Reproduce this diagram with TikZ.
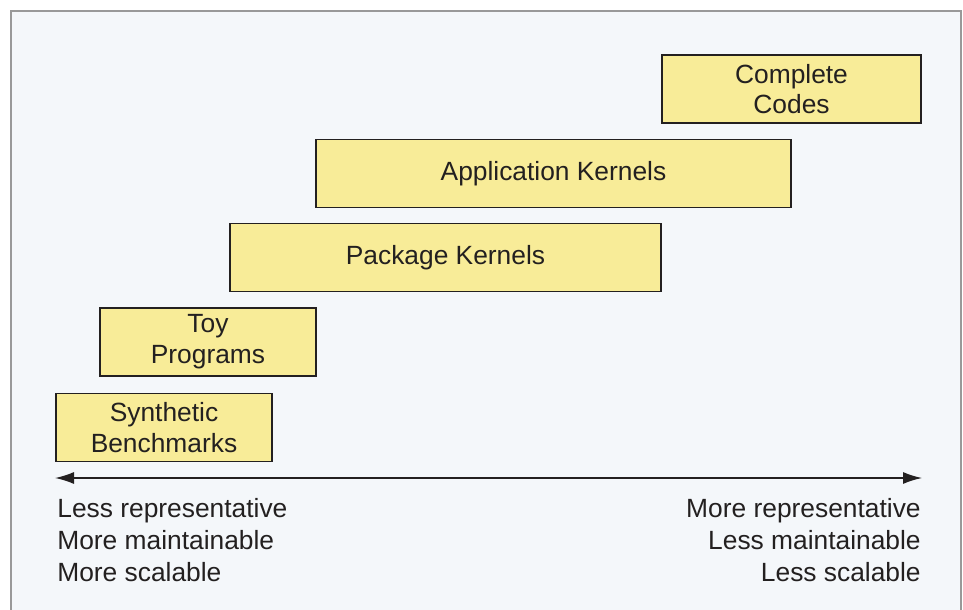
\documentclass[tikz,border=0pt]{standalone}
\usepackage{fontspec}
\setmainfont{Liberation Sans}
\usetikzlibrary{arrows.meta}
\definecolor{panelbg}{RGB}{244,247,250}
\definecolor{stagefill}{RGB}{248,236,152}
\definecolor{inkgray}{RGB}{35,32,32}
\tikzset{%
  stage/.style = {shape=rectangle, draw=inkgray, line width=1pt,%
                  fill=stagefill, align=center, text=inkgray,%
                  minimum height=1.36cm, inner sep=0pt,%
                  font=\fontsize{15}{17.5}\selectfont},%
  note/.style  = {inner sep=0pt, text=inkgray,%
                  font=\fontsize{15}{18}\selectfont}%
}
\begin{document}
\begin{tikzpicture}
	\clip (0,0) rectangle (19.26,12.18);
	\fill[white] (0,0) rectangle (19.26,12.18);
	\draw[gray!80, line width=1.2pt, fill=panelbg] (0.22,-0.3) rectangle (19.22,11.96);
	\node[stage, minimum width=4.32cm] (synth) at (3.28,3.63) {Synthetic\\Benchmarks};
	\node[stage, minimum width=4.32cm] (toy) at (4.16,5.34) {Toy\\Programs};
	\node[stage, minimum width=8.62cm] (pkg) at (8.91,7.03) {Package Kernels};
	\node[stage, minimum width=9.5cm] (app) at (11.07,8.71) {Application Kernels};
	\node[stage, minimum width=5.18cm] (full) at (15.83,10.4) {Complete\\Codes};
	\coordinate (lo) at (1.1,2.62);
	\coordinate (hi) at (18.44,2.62);
	\draw[inkgray, line width=0.8pt, {Latex[length=3.8mm,width=2.4mm]}-{Latex[length=3.8mm,width=2.4mm]}] (lo) -- (hi);
	\node[note, anchor=base west] (lrep) at (1.14,1.84) {Less representative};
	\node[note, anchor=base west] (lmaint) at (1.14,1.2) {More maintainable};
	\node[note, anchor=base west] (lscal) at (1.14,0.56) {More scalable};
	\node[note, anchor=base east] (rrep) at (18.42,1.84) {More representative};
	\node[note, anchor=base east] (rmaint) at (18.42,1.2) {Less maintainable};
	\node[note, anchor=base east] (rscal) at (18.42,0.56) {Less scalable};
\end{tikzpicture}
\end{document}
